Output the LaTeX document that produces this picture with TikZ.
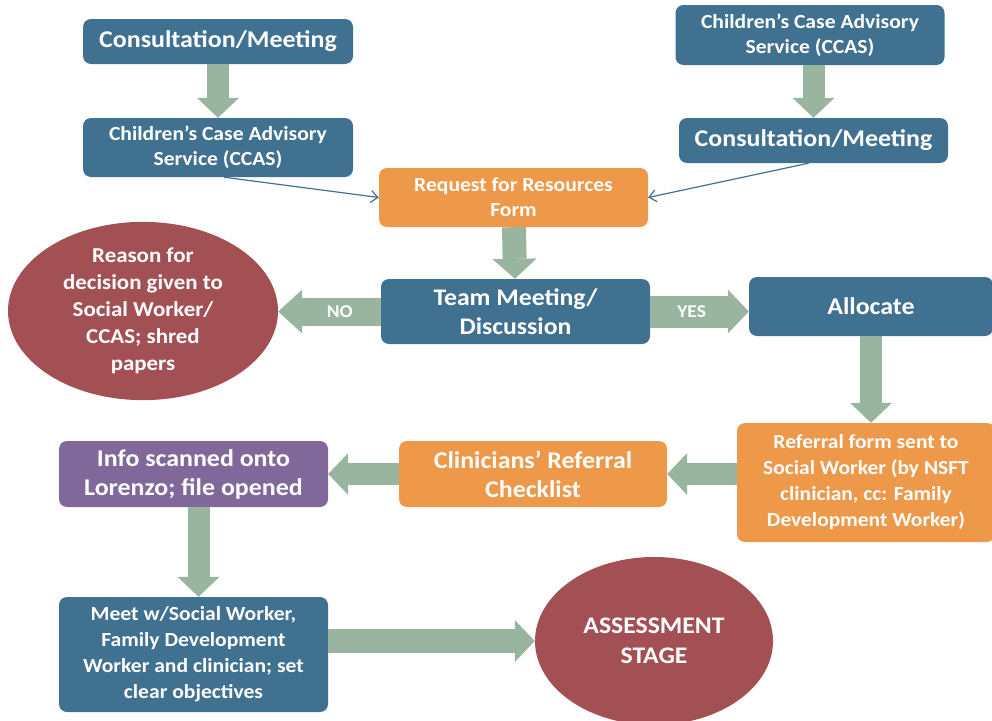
\documentclass[tikz,border=0pt]{standalone}
\usepackage{fontspec}
\setmainfont{Carlito}[FakeStretch=1.08]
\usetikzlibrary{arrows.meta,shapes.geometric}
\definecolor{boxblue}{RGB}{65,113,145}
\definecolor{boxorange}{RGB}{238,152,74}
\definecolor{boxpurple}{RGB}{128,104,155}
\definecolor{blobred}{RGB}{163,80,84}
\definecolor{arrowgreen}{RGB}{153,181,159}

\begin{document}
\begin{tikzpicture}[x=1pt,y=-1pt,
    box/.style={rounded corners=8pt, text=white, align=center, inner sep=0pt},
    blue box/.style={box, fill=boxblue},
    orange box/.style={box, fill=boxorange},
    purple box/.style={box, fill=boxpurple},
    blob/.style={ellipse, fill=blobred, text=white, align=center, inner sep=0pt},
    fat arrow/.style={draw=arrowgreen, line width=22pt,
        -{Triangle[width=42pt,length=20pt,line width=0pt]}},
    thin arrow/.style={draw=boxblue, line width=1.2pt,
        -{Straight Barb[length=7pt,width=12pt]}},
    say/.style={text=white, font=\fontsize{18}{20}\selectfont\bfseries}]
        \useasboundingbox (0,0) rectangle (992,720);
        \clip (0,0) rectangle (992,720);
        % left column at the top
        \node[blue box, minimum width=270pt, minimum height=45pt,
              font=\fontsize{24}{30}\selectfont\bfseries] (meet left) at (218,41.5) {Consultation/Meeting};
        \node[blue box, minimum width=270pt, minimum height=59pt,
              font=\fontsize{20}{25}\selectfont\bfseries] (ccas left) at (218,147.5) {Children’s Case Advisory\\Service (CCAS)};
        % right column at the top
        \node[blue box, minimum width=269pt, minimum height=60pt,
              font=\fontsize{20}{25}\selectfont\bfseries] (ccas right) at (810,35) {Children’s Case Advisory\\Service (CCAS)};
        \node[blue box, minimum width=269pt, minimum height=45pt,
              font=\fontsize{24}{30}\selectfont\bfseries] (meet right) at (813.5,140.5) {Consultation/Meeting};
        \node[orange box, minimum width=269pt, minimum height=59pt,
              font=\fontsize{20}{25}\selectfont\bfseries] (request) at (513.5,197.5) {Request for Resources\\Form};
        \node[blue box, minimum width=269pt, minimum height=65pt,
              font=\fontsize{23.8}{29}\selectfont\bfseries] (team) at (515.5,311.5) {Team Meeting/\\Discussion};
        \node[blue box, minimum width=244pt, minimum height=59pt,
              font=\fontsize{24}{29}\selectfont\bfseries] (allocate) at (871,306.5) {Allocate};
        \node[blob, minimum width=270pt, minimum height=152pt,
              font=\fontsize{21.2}{27}\selectfont\bfseries] (reason) at (143,311) {Reason for\\decision given to\\Social Worker/\\CCAS; shred\\papers};
        \node[orange box, minimum width=258pt, minimum height=119pt,
              font=\fontsize{19.9}{26}\selectfont\bfseries] (referral) at (866,482.5) {Referral form sent to\\Social Worker (by NSFT\\clinician, cc: Family\\Development Worker)};
        \node[orange box, minimum width=268pt, minimum height=66pt,
              font=\fontsize{24}{29}\selectfont\bfseries] (checklist) at (533,474) {Clinicians’ Referral\\Checklist};
        \node[purple box, minimum width=269pt, minimum height=66pt,
              font=\fontsize{24}{29}\selectfont\bfseries] (scanned) at (193.5,474) {Info scanned onto\\Lorenzo; file opened};
        \node[blue box, minimum width=269pt, minimum height=115pt,
              font=\fontsize{20}{26}\selectfont\bfseries] (objectives) at (193.5,654.5) {Meet w/Social Worker,\\Family Development\\Worker and clinician; set\\clear objectives};
        \node[blob, minimum width=238pt, minimum height=168pt,
              font=\fontsize{23.8}{30}\selectfont\bfseries] (assessment) at (654,641) {ASSESSMENT\\STAGE};
        % block arrows
        \draw[fat arrow] (meet left) -- (ccas left);
        \draw[fat arrow] (meet right.north |- ccas right.south) -- (meet right.north);
        \draw[fat arrow, line width=24pt, -{Triangle[width=44pt,length=20pt,line width=0pt]}] (request) -- (team);
        \draw[fat arrow, line width=28pt, -{Triangle[width=44pt,length=24pt,line width=0pt]}]
            (team.west) -- (team.west -| reason.east) node[say, pos=0.4] {NO};
        \draw[fat arrow, line width=32pt, -{Triangle[width=44pt,length=21pt,line width=0pt]}]
            (team.east) -- (team.east -| allocate.west) node[say, pos=0.42] {YES};
        \draw[fat arrow] (allocate.south) -- (allocate.south |- referral.north);
        \draw[fat arrow] (referral.west |- checklist.east) -- (checklist.east);
        \draw[fat arrow] (checklist.west) -- (scanned.east);
        \draw[fat arrow] ([xshift=5pt]scanned.south) -- ([xshift=5pt]objectives.north);
        \draw[fat arrow, line width=24pt] (objectives.east |- assessment.west) -- (assessment.west);
        % thin connectors into the request form
        \draw[thin arrow] ([xshift=6pt]ccas left.south) -- (request.west);
        \draw[thin arrow] ([xshift=-5pt]meet right.south) -- (request.east);
    \end{tikzpicture}
\end{document}
